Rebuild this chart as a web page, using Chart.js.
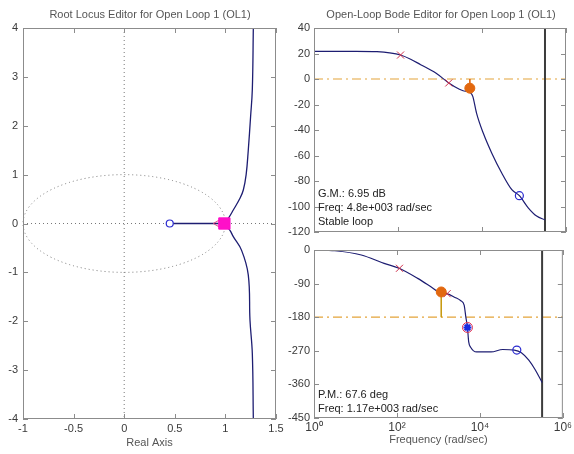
<!DOCTYPE html>
<html>
<head>
<meta charset="utf-8">
<script src="https://cdn.jsdelivr.net/npm/chart.js@4.4.1/dist/chart.umd.min.js"></script>
<style>
body{margin:0;background:#fff;}
#wrap{position:relative;width:574px;height:454px;}
#wrap canvas{position:absolute;left:0;top:0;}
</style>
</head>
<body>
<div id="wrap">
<canvas id="rl" width="574" height="454"></canvas>
<canvas id="mag" width="574" height="454"></canvas>
<canvas id="ph" width="574" height="454"></canvas>
</div>
<script>
// root locus branches (real / imaginary parts)
const rlUpperRe = [0.99, 1.029, 1.078, 1.144, 1.177, 1.205, 1.226, 1.249, 1.266, 1.276];
const rlUpperIm = [0, 0.106, 0.276, 0.515, 0.685, 1.0, 1.5, 2.19, 2.74, 4.0];
const rlLowerRe = [0.99, 1.045, 1.078, 1.16, 1.226, 1.243, 1.266, 1.276];
const rlLowerIm = [0, -0.14, -0.27, -0.55, -1.05, -1.98, -2.66, -4.0];
const rlRealSegRe = [0.45, 0.99];
const rlZeroRe = 0.45;
const rlOlPoleRe = 0.92;
const rlClPoleRe = 0.99;
const rlXTicks = [-1, -0.5, 0, 0.5, 1, 1.5];
const rlYTicks = [-4, -3, -2, -1, 0, 1, 2, 3, 4];

// open-loop bode
const magFreq = [1, 10, 31.6, 63.1, 115, 200, 347, 794, 1620, 2820, 3980, 4570, 5250, 6030, 7410, 10700, 17000, 29500, 51300, 77600, 126000, 200000, 316000];
const magDb = [21.7, 21.7, 21.4, 20.5, 18.8, 15.5, 11.2, 4.7, -3.1, -7.8, -9.6, -9.5, -10.5, -13.6, -26.7, -42.4, -58, -73.7, -86.8, -91.5, -101, -107.5, -110.5];
const phFreq = [1, 3.16, 13.8, 49, 112, 316, 631, 1100, 1580, 2510, 3470, 4170, 4570, 5010, 5370, 6030, 8320, 18600, 35500, 67600, 100000, 151000, 219000, 316000];
const phDeg = [0, -2, -13.4, -35.8, -49, -76, -97, -114.5, -117, -127, -136, -147.6, -179, -207.5, -246, -261, -273, -273, -266.5, -268, -275, -295, -322, -355];
const bodeFreqTicks = [1, 100, 10000, 1000000];
const bodeFreqLabels = ['10\u2070', '10\u00b2', '10\u2074', '10\u2076'];
const magTicks = [40, 20, 0, -20, -40, -60, -80, -100, -120];
const phTicks = [0, -90, -180, -270, -360, -450];

const poleFreq = [115, 1620];
const poleMag = [18.8, -3.1];
const polePh = [-49, -117];
const zeroFreq = [77600];
const zeroMag = [-91.5];
const zeroPh = [-268];
const compFreq = [5010];
const compPh = [-207.5];
const gmFreq = 5130, gmMag = -7.2;
const pmFreq = 1170, pmPh = -112.4;
const nyqFreq = 316000;

const navy = '#1d1d72';
const orange = '#e2680f';
const guide = '#e4a43a';
const textColor = '#3a3a3a';
const font = {family: 'Liberation Sans, Arial, sans-serif', size: 11};

function xy(xs, ys){
    return xs.map((x, i) => ({x: x, y: ys[i]}))
}

// box, inward tick marks, guide lines and texts, matlab style
const framePlugin = {
    id: 'frame',
    beforeDatasetsDraw(chart, args, opts){
        if(!opts.unitCircle) return
        const {ctx, chartArea: a, scales} = chart
        const x0 = scales.x.getPixelForValue(0), y0 = scales.y.getPixelForValue(0)
        ctx.save()
        ctx.strokeStyle = '#777'
        ctx.lineWidth = 1
        ctx.setLineDash([1, 3])
        ctx.beginPath()
        ctx.moveTo(x0, a.top); ctx.lineTo(x0, a.bottom)
        ctx.moveTo(a.left, y0); ctx.lineTo(a.right, y0)
        ctx.stroke()
        ctx.beginPath()
        ctx.ellipse(x0, y0, scales.x.getPixelForValue(1) - x0, y0 - scales.y.getPixelForValue(1), 0, 0, Math.PI * 2)
        ctx.stroke()
        ctx.restore()
    },
    afterDraw(chart, args, opts){
        const {ctx, chartArea: a, scales} = chart
        ctx.save()
        ctx.strokeStyle = '#8c8c8c'
        ctx.lineWidth = 1
        ctx.strokeRect(a.left + 0.5, a.top + 0.5, a.right - a.left - 1, a.bottom - a.top - 1)
        ctx.beginPath()
        opts.xTicks.forEach(v => {
            const p = Math.round(scales.x.getPixelForValue(v)) + 0.5
            ctx.moveTo(p, a.top); ctx.lineTo(p, a.top + 5)
            ctx.moveTo(p, a.bottom); ctx.lineTo(p, a.bottom - 5)
        })
        opts.yTicks.forEach(v => {
            const p = Math.round(scales.y.getPixelForValue(v)) + 0.5
            ctx.moveTo(a.left, p); ctx.lineTo(a.left + 5, p)
            ctx.moveTo(a.right, p); ctx.lineTo(a.right - 5, p)
        })
        ctx.stroke()
        ctx.font = '11px Liberation Sans, Arial, sans-serif'
        ctx.textBaseline = 'middle'
        if(opts.title){
            ctx.fillStyle = '#555'
            ctx.textAlign = 'center'
            ctx.fillText(opts.title, opts.titleX, 15)
        }
        if(opts.notes){
            ctx.fillStyle = '#222'
            ctx.textAlign = 'left'
            opts.notes.forEach((t, i) => ctx.fillText(t, a.left + 4, opts.notesY + i * 14))
        }
        ctx.restore()
    }
}

function lineSet(data, color, width, dash, smooth){
    const set = {data: data, showLine: true, pointRadius: 0, borderColor: color, borderWidth: width, borderDash: dash || [], backgroundColor: color}
    if(smooth == 'monotone') set.cubicInterpolationMode = 'monotone'
    else if(smooth) set.tension = smooth
    return set
}

function axisStyle(){
    return {grid: {display: false, drawTicks: false}, border: {display: false}}
}

// root locus
new Chart(document.getElementById('rl'), {
    type: 'scatter',
    data: {
        datasets: [
            {data: [{x: rlClPoleRe, y: 0}], pointStyle: 'rect', pointRadius: 8, backgroundColor: '#ff10c8', borderColor: '#ff10c8'},
            {data: [{x: rlOlPoleRe, y: 0}], pointStyle: 'triangle', rotation: -90, pointRadius: 4, borderColor: '#e04080', backgroundColor: 'rgba(0,0,0,0)', borderWidth: 1},
            {data: [{x: rlZeroRe, y: 0}], pointStyle: 'circle', pointRadius: 3.5, borderColor: '#2a2ad0', backgroundColor: '#fff', borderWidth: 1.2},
            lineSet(xy(rlUpperRe, rlUpperIm), navy, 1.3, null, 0.4),
            lineSet(xy(rlLowerRe, rlLowerIm), navy, 1.3, null, 0.4),
            lineSet(xy(rlRealSegRe, [0, 0]), navy, 1.3)
        ]
    },
    options: {
        responsive: false,
        animation: false,
        layout: {padding: {left: 0, right: 298, top: 28, bottom: 0}},
        plugins: {
            legend: {display: false},
            tooltip: {enabled: false},
            frame: {xTicks: rlXTicks, yTicks: rlYTicks, unitCircle: true, title: 'Root Locus Editor for Open Loop 1 (OL1)', titleX: 150}
        },
        scales: {
            x: Object.assign(axisStyle(), {
                type: 'linear', min: -1, max: 1.5,
                afterBuildTicks: s => { s.ticks = rlXTicks.map(v => ({value: v})) },
                afterFit: s => { s.height = 35 },
                ticks: {padding: 3, font: font, color: textColor, maxRotation: 0, autoSkip: false, callback: v => String(v)},
                title: {display: true, text: 'Real Axis', padding: {top: 0, bottom: 4}, font: font, color: '#555'}
            }),
            y: Object.assign(axisStyle(), {
                type: 'linear', min: -4, max: 4,
                afterBuildTicks: s => { s.ticks = rlYTicks.map(v => ({value: v})) },
                afterFit: s => { s.width = 23 },
                ticks: {padding: 5, font: font, color: textColor, autoSkip: false, callback: v => String(v)}
            })
        }
    },
    plugins: [framePlugin]
});

// bode magnitude
new Chart(document.getElementById('mag'), {
    type: 'scatter',
    data: {
        datasets: [
            {data: [{x: gmFreq, y: gmMag}], pointStyle: 'circle', pointRadius: 5, backgroundColor: orange, borderColor: orange},
            {data: xy(poleFreq, poleMag), pointStyle: 'crossRot', pointRadius: 5, borderColor: '#d0304a', borderWidth: 1},
            {data: xy(zeroFreq, zeroMag), pointStyle: 'circle', pointRadius: 4, borderColor: '#2a2ad0', backgroundColor: 'rgba(0,0,0,0)', borderWidth: 1.2},
            lineSet(xy([gmFreq, gmFreq], [0, gmMag]), orange, 1),
            lineSet(xy(magFreq, magDb), navy, 1.2, null, 'monotone'),
            lineSet(xy([nyqFreq, nyqFreq], [40, -120]), '#3c3c3c', 2),
            lineSet(xy([1, 1000000], [0, 0]), guide, 1.2, [9, 4, 2, 4])
        ]
    },
    options: {
        responsive: false,
        animation: false,
        layout: {padding: {left: 284, right: 8, top: 28, bottom: 222}},
        plugins: {
            legend: {display: false},
            tooltip: {enabled: false},
            frame: {xTicks: bodeFreqTicks, yTicks: magTicks, title: 'Open-Loop Bode Editor for Open Loop 1 (OL1)', titleX: 441,
                notes: ['G.M.: 6.95 dB', 'Freq: 4.8e+003 rad/sec', 'Stable loop'], notesY: 194}
        },
        scales: {
            x: Object.assign(axisStyle(), {type: 'logarithmic', min: 1, max: 1000000, display: false}),
            y: Object.assign(axisStyle(), {
                type: 'linear', min: -120, max: 40,
                afterBuildTicks: s => { s.ticks = magTicks.map(v => ({value: v})) },
                afterFit: s => { s.width = 30 },
                ticks: {padding: 4, font: font, color: textColor, autoSkip: false}
            })
        }
    },
    plugins: [framePlugin]
});

// bode phase
new Chart(document.getElementById('ph'), {
    type: 'scatter',
    data: {
        datasets: [
            {data: [{x: pmFreq, y: pmPh}], pointStyle: 'circle', pointRadius: 5, backgroundColor: orange, borderColor: orange},
            {data: xy(compFreq, compPh), pointStyle: 'star', pointRadius: 4, borderColor: '#1a2ae0', borderWidth: 2},
            {data: xy(compFreq, compPh), pointStyle: 'circle', pointRadius: 5, borderColor: '#e03050', backgroundColor: 'rgba(0,0,0,0)', borderWidth: 1},
            {data: xy(poleFreq, polePh), pointStyle: 'crossRot', pointRadius: 5, borderColor: '#d0304a', borderWidth: 1},
            {data: xy(zeroFreq, zeroPh), pointStyle: 'circle', pointRadius: 4, borderColor: '#2a2ad0', backgroundColor: 'rgba(0,0,0,0)', borderWidth: 1.2},
            lineSet(xy([pmFreq, pmFreq], [pmPh, -180]), '#c89a10', 1),
            lineSet(xy(phFreq, phDeg), navy, 1.2, null, 'monotone'),
            lineSet(xy([nyqFreq, nyqFreq], [0, -450]), '#3c3c3c', 2),
            lineSet(xy([1, 1000000], [-180, -180]), guide, 1.2, [9, 4, 2, 4])
        ]
    },
    options: {
        responsive: false,
        animation: false,
        layout: {padding: {left: 284, right: 8, top: 250, bottom: 0}},
        plugins: {
            legend: {display: false},
            tooltip: {enabled: false},
            frame: {xTicks: bodeFreqTicks, yTicks: phTicks, notes: ['P.M.: 67.6 deg', 'Freq: 1.17e+003 rad/sec'], notesY: 395}
        },
        scales: {
            x: Object.assign(axisStyle(), {
                type: 'logarithmic', min: 1, max: 1000000,
                afterBuildTicks: s => { s.ticks = bodeFreqTicks.map(v => ({value: v})) },
                afterFit: s => { s.height = 36 },
                ticks: {padding: 2, font: {family: font.family, size: 12}, color: textColor, maxRotation: 0, autoSkip: false,
                    callback: (v) => bodeFreqLabels[bodeFreqTicks.indexOf(v)]},
                title: {display: true, text: 'Frequency (rad/sec)', padding: {top: 0, bottom: 7}, font: font, color: '#555'}
            }),
            y: Object.assign(axisStyle(), {
                type: 'linear', min: -450, max: 0,
                afterBuildTicks: s => { s.ticks = phTicks.map(v => ({value: v})) },
                afterFit: s => { s.width = 30 },
                ticks: {padding: 4, font: font, color: textColor, autoSkip: false}
            })
        }
    },
    plugins: [framePlugin]
});
</script>
</body>
</html>
